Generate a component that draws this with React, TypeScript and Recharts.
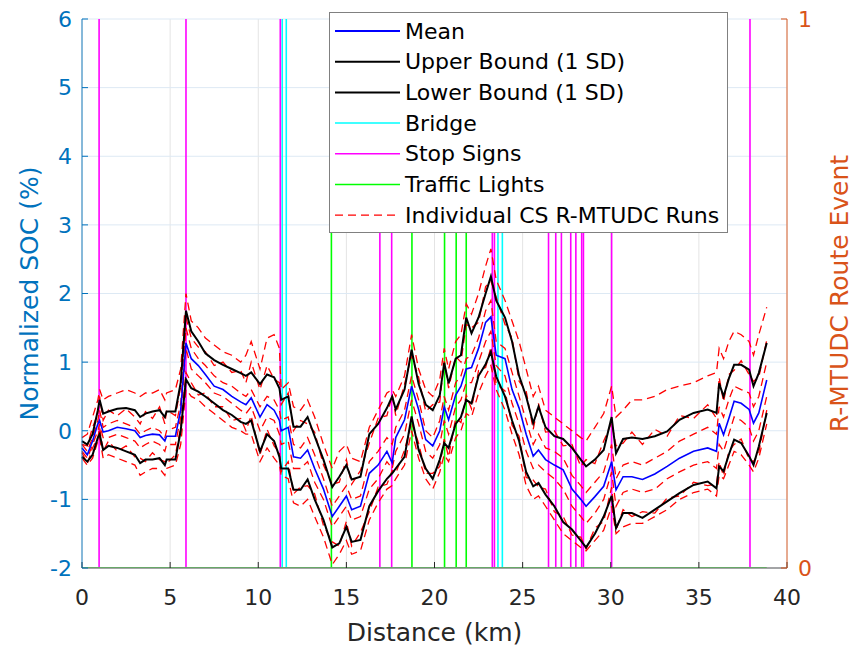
import React from 'react';
import {
  ComposedChart,
  Line,
  XAxis,
  YAxis,
  CartesianGrid,
  ReferenceLine,
  Legend,
  Label,
} from 'recharts';

// ---------------- DATA ----------------
const distanceKm = [
  0, 0.3, 0.6, 0.9, 1.0, 1.2, 1.5, 2.0, 2.5, 3.0,
  3.3, 3.6, 4.0, 4.4, 4.7, 4.8, 5.3, 5.6, 5.9, 6.2,
  6.6, 7.0, 7.5, 8.0, 8.5, 9.0, 9.3, 9.6, 10.1, 10.5,
  10.9, 11.2, 11.3, 11.7, 12.0, 12.4, 12.8, 13.2, 13.7, 14.2,
  14.6, 15.0, 15.3, 15.8, 16.3, 16.8, 17.3, 17.6, 17.8, 18.3,
  18.7, 19.1, 19.5, 19.9, 20.3, 20.55, 20.8, 21.2, 21.5, 21.8,
  22.1, 22.5, 22.9, 23.2, 23.5, 24.0, 24.4, 24.8, 25.2, 25.6,
  25.9, 26.3, 26.8, 27.3, 27.8, 28.3, 28.6, 29.1, 29.6, 30.05,
  30.3, 30.7, 31.2, 31.8, 32.5, 33.2, 33.9, 34.7, 35.5, 36.0,
  36.15, 36.4, 36.7, 37.0, 37.4, 37.85, 38.1, 38.4, 38.85,
];

const meanSOC = [
  -0.25, -0.35, -0.15, 0.1, 0.15, -0.02, 0.0, 0.05, 0.03, 0.0,
  -0.1, -0.07, -0.05, -0.06, -0.15, -0.08, -0.08, 0.3, 1.28, 1.05,
  0.95, 0.82, 0.65, 0.6, 0.5, 0.42, 0.38, 0.48, 0.2, 0.38,
  0.3, 0.15, 0.0, 0.05, -0.38, -0.4, -0.28, -0.55, -0.85, -1.25,
  -1.1, -0.95, -1.15, -1.1, -0.62, -0.5, -0.3, -0.47, -0.1, 0.16,
  0.65, 0.31, -0.13, -0.22, 0.0, 0.35, 0.16, 0.52, 0.65, 0.9,
  0.92, 1.2, 1.58, 1.66, 1.1, 1.05, 0.6, 0.33, -0.05, -0.37,
  -0.28, -0.42, -0.5, -0.57, -0.85, -1.0, -1.1, -0.96, -0.81, -0.45,
  -0.86, -0.67, -0.67, -0.71, -0.63, -0.52, -0.4, -0.3, -0.25, -0.3,
  0.11, -0.06, 0.18, 0.43, 0.4, 0.31, 0.11, 0.26, 0.74,
];

const upperSOC = [
  -0.15, -0.2, -0.05, 0.3, 0.45, 0.25, 0.28, 0.32, 0.33, 0.3,
  0.2, 0.25, 0.28, 0.3, 0.2, 0.28, 0.28, 0.7, 1.75, 1.45,
  1.3, 1.13, 1.03, 0.96, 0.9, 0.84, 0.8, 0.85, 0.68, 0.82,
  0.78, 0.62, 0.45, 0.5, 0.06, 0.06, 0.2, -0.08, -0.42, -0.82,
  -0.67, -0.5, -0.71, -0.67, -0.05, 0.1, 0.33, 0.5, 0.31, 0.6,
  1.18, 0.68, 0.38, 0.3, 0.52, 0.99, 0.69, 1.05, 1.1, 1.65,
  1.42, 1.65, 2.0, 2.25, 1.9, 1.65, 1.3, 0.8, 0.5, 0.11,
  0.35, 0.05, -0.08, -0.12, -0.25, -0.42, -0.52, -0.42, -0.28, 0.2,
  -0.33, -0.12, -0.1, -0.12, -0.08, -0.01, 0.16, 0.26, 0.31, 0.26,
  0.69, 0.5, 0.76, 0.96, 0.96, 0.89, 0.65, 0.84, 1.28,
];

const lowerSOC = [
  -0.38, -0.45, -0.35, -0.1, -0.05, -0.28, -0.22, -0.25, -0.3, -0.35,
  -0.47, -0.42, -0.42, -0.4, -0.5, -0.42, -0.42, 0.0, 0.75, 0.62,
  0.57, 0.5, 0.4, 0.3, 0.23, 0.13, 0.1, 0.15, -0.3, -0.05,
  -0.15, -0.38, -0.55, -0.55, -0.86, -0.86, -0.71, -1.0, -1.3, -1.7,
  -1.64, -1.4, -1.62, -1.59, -1.1, -0.88, -0.7, -0.62, -0.55, -0.38,
  0.21, -0.28, -0.55, -0.7, -0.42, -0.18, -0.25, 0.1, 0.2, 0.45,
  0.4, 0.8, 0.97, 1.15, 0.79, 0.5, 0.15, -0.15, -0.6, -0.81,
  -0.76, -0.93, -1.1, -1.33, -1.44, -1.6, -1.7, -1.5, -1.25, -0.95,
  -1.42, -1.2, -1.2, -1.27, -1.15, -1.03, -0.91, -0.79, -0.74, -0.84,
  -0.52, -0.59, -0.35, -0.13, -0.18, -0.37, -0.5, -0.23, 0.26,
];

const run1 = [
  -0.1, -0.05, 0.2, 0.45, 0.6, 0.45, 0.5, 0.55, 0.6, 0.55,
  0.5, 0.55, 0.55, 0.6, 0.45, 0.55, 0.6, 0.9, 2.0, 1.6,
  1.5, 1.35, 1.25, 1.15, 1.1, 1.0, 1.1, 1.3, 0.9, 1.35,
  1.4, 1.2, 0.6, 0.7, 0.35, 0.3, 0.45, 0.2, -0.2, -0.55,
  -0.3, -0.2, -0.4, -0.45, 0.05, 0.3, 0.55, 0.6, 0.5, 0.8,
  1.4, 0.9, 0.6, 0.5, 0.75, 1.2, 0.9, 1.3, 1.4, 1.85,
  1.7, 2.0, 2.4, 2.65, 2.2, 1.9, 1.6, 1.3, 0.9, 0.5,
  0.65, 0.3, 0.2, 0.1, 0.0, -0.1, -0.15, 0.05, 0.25, 0.65,
  0.2, 0.3, 0.45, 0.45, 0.5, 0.6, 0.65, 0.7, 0.8, 0.85,
  1.2, 1.05, 1.3, 1.45, 1.4, 1.3, 1.1, 1.4, 1.8,
];

const run2 = [
  -0.2, -0.22, 0.05, 0.25, 0.5, 0.15, 0.3, 0.22, 0.32, 0.2,
  0.1, 0.28, 0.18, 0.35, 0.1, 0.3, 0.22, 0.65, 1.65, 1.35,
  1.22, 1.15, 0.95, 1.0, 0.85, 0.88, 0.7, 1.0, 0.6, 0.95,
  0.75, 0.7, 0.38, 0.55, 0.0, 0.15, 0.1, -0.02, -0.5, -0.78,
  -0.75, -0.42, -0.78, -0.58, -0.18, 0.18, 0.22, 0.52, 0.22, 0.68,
  1.1, 0.78, 0.28, 0.38, 0.42, 1.02, 0.62, 1.08, 1.0, 1.55,
  1.5, 1.58, 2.1, 2.18, 1.95, 1.55, 1.35, 0.72, 0.58, 0.02,
  0.4, -0.02, 0.0, -0.22, -0.2, -0.52, -0.42, -0.48, -0.15, 0.12,
  -0.22, -0.18, -0.02, -0.2, 0.02, -0.08, 0.22, 0.18, 0.38, 0.18,
  0.78, 0.42, 0.82, 0.88, 1.02, 0.82, 0.72, 0.78, 1.32,
];

const run3 = [
  -0.2, -0.3, -0.1, 0.15, 0.3, 0.05, 0.1, 0.15, 0.1, 0.05,
  -0.05, 0.0, 0.05, 0.0, -0.1, 0.0, 0.05, 0.4, 1.5, 1.2,
  1.05, 0.95, 0.8, 0.7, 0.65, 0.55, 0.5, 0.6, 0.35, 0.5,
  0.45, 0.3, 0.15, 0.2, -0.2, -0.25, -0.1, -0.35, -0.7, -1.1,
  -0.95, -0.8, -1.0, -0.95, -0.45, -0.3, -0.1, -0.2, 0.05, 0.3,
  0.8, 0.45, 0.0, -0.1, 0.15, 0.5, 0.3, 0.7, 0.8, 1.05,
  1.1, 1.35, 1.75, 1.9, 1.3, 1.2, 0.85, 0.5, 0.15, -0.2,
  -0.05, -0.25, -0.3, -0.4, -0.65, -0.8, -0.9, -0.75, -0.6, -0.2,
  -0.7, -0.5, -0.45, -0.5, -0.4, -0.3, -0.15, -0.05, 0.05, -0.05,
  0.35, 0.2, 0.45, 0.65, 0.6, 0.55, 0.35, 0.5, 1.0,
];

const run4 = [
  -0.3, -0.4, -0.2, 0.0, 0.1, -0.1, -0.1, -0.05, -0.1, -0.15,
  -0.25, -0.2, -0.15, -0.2, -0.3, -0.2, -0.2, 0.2, 1.2, 0.9,
  0.8, 0.7, 0.55, 0.5, 0.4, 0.3, 0.25, 0.35, 0.0, 0.2,
  0.15, -0.05, -0.2, -0.15, -0.55, -0.55, -0.45, -0.75, -1.0, -1.4,
  -1.25, -1.1, -1.3, -1.25, -0.85, -0.7, -0.45, -0.55, -0.3, -0.05,
  0.45, 0.1, -0.3, -0.4, -0.2, 0.15, -0.05, 0.35, 0.45, 0.7,
  0.7, 1.0, 1.3, 1.45, 0.95, 0.8, 0.4, 0.1, -0.3, -0.55,
  -0.5, -0.6, -0.7, -0.85, -1.1, -1.25, -1.35, -1.2, -1.0, -0.6,
  -1.1, -0.9, -0.85, -0.9, -0.85, -0.7, -0.6, -0.5, -0.45, -0.55,
  -0.2, -0.3, -0.05, 0.2, 0.15, 0.05, -0.15, 0.0, 0.5,
];

const run5 = [
  -0.32, -0.48, -0.25, -0.1, 0.05, -0.3, -0.15, -0.3, -0.22, -0.38,
  -0.4, -0.45, -0.32, -0.42, -0.45, -0.48, -0.35, 0.05, 0.85, 0.7,
  0.52, 0.55, 0.35, 0.35, 0.15, 0.18, 0.0, 0.22, -0.35, 0.02,
  -0.22, -0.32, -0.6, -0.45, -0.92, -0.82, -0.8, -0.92, -1.38, -1.62,
  -1.68, -1.32, -1.68, -1.48, -1.18, -0.82, -0.78, -0.58, -0.62, -0.28,
  0.12, -0.18, -0.62, -0.62, -0.52, -0.12, -0.38, 0.18, 0.12, 0.52,
  0.32, 0.88, 0.92, 1.22, 0.68, 0.58, 0.08, -0.08, -0.68, -0.72,
  -0.82, -0.85, -1.18, -1.25, -1.52, -1.55, -1.72, -1.42, -1.32, -0.82,
  -1.45, -1.15, -1.25, -1.18, -1.2, -0.98, -0.95, -0.75, -0.8, -0.78,
  -0.45, -0.66, -0.3, -0.2, -0.12, -0.42, -0.45, -0.32, 0.3,
];

const run6 = [
  -0.4, -0.5, -0.4, -0.15, -0.1, -0.4, -0.35, -0.4, -0.45, -0.5,
  -0.65, -0.6, -0.55, -0.55, -0.65, -0.55, -0.5, -0.2, 0.6, 0.5,
  0.45, 0.35, 0.25, 0.15, 0.05, 0.0, -0.05, -0.05, -0.45, -0.25,
  -0.4, -0.5, -0.65, -0.7, -1.05, -1.1, -1.0, -1.25, -1.55, -1.95,
  -1.8, -1.6, -1.8, -1.75, -1.3, -1.05, -0.85, -0.8, -0.7, -0.5,
  0.0, -0.4, -0.7, -0.85, -0.6, -0.35, -0.45, -0.1, 0.0, 0.25,
  0.2, 0.55, 0.8, 0.95, 0.6, 0.3, -0.05, -0.35, -0.8, -1.0,
  -0.95, -1.1, -1.3, -1.5, -1.6, -1.7, -1.75, -1.6, -1.45, -1.1,
  -1.5, -1.4, -1.35, -1.35, -1.25, -1.15, -1.0, -0.9, -0.85, -0.95,
  -0.65, -0.7, -0.5, -0.3, -0.35, -0.5, -0.6, -0.4, 0.1,
];

// Route event series (right axis, 0 = no event, 1 = event)
const routeEventBase = 0;
const bridgeKm = [11.36, 11.59, 23.6, 23.85];
const stopSignKm = [
  0.97, 5.9, 11.25, 16.9, 17.57, 23.28, 23.4, 26.47, 26.88, 27.2,
  27.73, 28.02, 28.35, 28.45, 30.05, 37.9,
];
const trafficLightKm = [14.15, 18.72, 20.57, 21.23, 21.8];

const xTicks = [0, 5, 10, 15, 20, 25, 30, 35, 40];
const socTicks = [-2, -1, 0, 1, 2, 3, 4, 5, 6];
const eventTicks = [0, 1];

const runKeys = ['r1', 'r2', 'r3', 'r4', 'r5', 'r6'];
const runSeries = [run1, run2, run3, run4, run5, run6];

const legendItems = [
  { name: 'Mean', color: '#0000FF', width: 2, dash: '' },
  { name: 'Upper Bound (1 SD)', color: '#000000', width: 2, dash: '' },
  { name: 'Lower Bound (1 SD)', color: '#000000', width: 2, dash: '' },
  { name: 'Bridge', color: '#00FFFF', width: 1.5, dash: '' },
  { name: 'Stop Signs', color: '#FF00FF', width: 1.5, dash: '' },
  { name: 'Traffic Lights', color: '#00FF00', width: 1.5, dash: '' },
  { name: 'Individual CS R-MTUDC Runs', color: '#FF0000', width: 1.3, dash: '8 5' },
];

// Table built from arrays
const rows = distanceKm.map((d, i) => {
  const row: Record<string, number> = {
    d,
    mean: meanSOC[i],
    upper: upperSOC[i],
    lower: lowerSOC[i],
    event: routeEventBase,
  };
  runKeys.forEach((k, j) => {
    row[k] = runSeries[j][i];
  });
  return row;
});

// ---------------- STYLE ----------------
const FONT = '"DejaVu Sans", "Liberation Sans", Arial, sans-serif';
const LEFT_COLOR = '#0072BD';
const RIGHT_COLOR = '#D95319';
const AXIS_GREY = '#262626';

const LeftAxisLabel = (props: any) => {
  const vb = props.viewBox || {};
  const cx = vb.x + 29;
  const cy = vb.y + vb.height / 2;
  return (
    <text
      x={cx}
      y={cy}
      transform={`rotate(-90 ${cx} ${cy})`}
      textAnchor="middle"
      dominantBaseline="central"
      fill={LEFT_COLOR}
      fontSize={25}
      fontFamily={FONT}
    >
      Normalized SOC (%)
    </text>
  );
};

const RightAxisLabel = (props: any) => {
  const vb = props.viewBox || {};
  const cx = vb.x + 52;
  const cy = vb.y + vb.height / 2;
  return (
    <text
      x={cx}
      y={cy}
      transform={`rotate(-90 ${cx} ${cy})`}
      textAnchor="middle"
      dominantBaseline="central"
      fill={RIGHT_COLOR}
      fontSize={25}
      fontFamily={FONT}
    >
      R-MTUDC Route Event
    </text>
  );
};

const BottomAxisLabel = (props: any) => {
  const vb = props.viewBox || {};
  const cx = vb.x + vb.width / 2;
  const cy = vb.y + 64;
  return (
    <text
      x={cx}
      y={cy}
      textAnchor="middle"
      dominantBaseline="central"
      fill={AXIS_GREY}
      fontSize={25}
      fontFamily={FONT}
    >
      Distance (km)
    </text>
  );
};

const renderLegend = () => {
  const rowH = 30.7;
  return (
    <div
      style={{
        width: 399,
        height: 221,
        boxSizing: 'border-box',
        border: '1.5px solid #808080',
        background: '#ffffff',
      }}
    >
      <svg width={396} height={218} style={{ display: 'block' }}>
        {legendItems.map((it, i) => {
          const y = 18 + i * rowH;
          return (
            <g key={it.name}>
              <line
                x1={5}
                x2={70}
                y1={y}
                y2={y}
                stroke={it.color}
                strokeWidth={it.width}
                strokeDasharray={it.dash || undefined}
              />
              <text
                x={75}
                y={y}
                dominantBaseline="central"
                fontSize={22}
                fontFamily={FONT}
                fill="#000000"
              >
                {it.name}
              </text>
            </g>
          );
        })}
      </svg>
    </div>
  );
};

export default function App() {
  return (
    <div style={{ position: 'absolute', left: 0, top: 0, background: '#fff' }}>
      <ComposedChart
        width={855}
        height={653}
        data={rows}
        margin={{ top: 19, right: 0, bottom: 0, left: 0 }}
      >
        <CartesianGrid horizontal={false} stroke="#e4e4e4" strokeWidth={1} />
        <CartesianGrid vertical={false} stroke="#dde9f4" strokeWidth={1} />

        <XAxis
          dataKey="d"
          type="number"
          domain={[0, 40]}
          ticks={xTicks}
          interval={0}
          height={85}
          tickSize={-6}
          tickMargin={27}
          axisLine={{ stroke: '#8a8a8a', strokeWidth: 1.5 }}
          tickLine={{ stroke: AXIS_GREY }}
          tick={{ fill: AXIS_GREY, fontSize: 22, fontFamily: FONT }}
        >
          <Label content={BottomAxisLabel} />
        </XAxis>
        <XAxis
          xAxisId="top"
          orientation="top"
          dataKey="d"
          type="number"
          domain={[0, 40]}
          ticks={xTicks}
          interval={0}
          height={0}
          tickSize={-6}
          tick={false}
          axisLine={{ stroke: '#8a8a8a', strokeWidth: 1.5 }}
          tickLine={{ stroke: AXIS_GREY }}
        />
        <YAxis
          type="number"
          domain={[-2, 6]}
          ticks={socTicks}
          interval={0}
          width={82}
          tickSize={-6}
          tickMargin={16}
          axisLine={{ stroke: LEFT_COLOR, strokeWidth: 1.5, strokeOpacity: 0.6 }}
          tickLine={{ stroke: LEFT_COLOR }}
          tick={{ fill: LEFT_COLOR, fontSize: 22, fontFamily: FONT }}
        >
          <Label content={LeftAxisLabel} />
        </YAxis>
        <YAxis
          yAxisId="right"
          orientation="right"
          type="number"
          domain={[0, 1]}
          allowDataOverflow
          ticks={eventTicks}
          interval={0}
          width={68}
          tickSize={-6}
          tickMargin={17}
          axisLine={{ stroke: RIGHT_COLOR, strokeWidth: 1.5, strokeOpacity: 0.6 }}
          tickLine={{ stroke: RIGHT_COLOR }}
          tick={{ fill: RIGHT_COLOR, fontSize: 22, fontFamily: FONT }}
        >
          <Label content={RightAxisLabel} />
        </YAxis>

        {bridgeKm.map((x) => (
          <ReferenceLine key={'b' + x} x={x} stroke="#00FFFF" strokeWidth={1.6} />
        ))}
        {stopSignKm.map((x) => (
          <ReferenceLine key={'s' + x} x={x} stroke="#FF00FF" strokeWidth={1.6} />
        ))}
        {trafficLightKm.map((x) => (
          <ReferenceLine key={'t' + x} x={x} stroke="#00FF00" strokeWidth={1.6} />
        ))}
        <Line
          yAxisId="right"
          dataKey="event"
          stroke="#00FF00"
          strokeWidth={2}
          dot={false}
          activeDot={false}
          isAnimationActive={false}
          legendType="none"
        />

        {runKeys.map((k) => (
          <Line
            key={k}
            dataKey={k}
            stroke="#FF0000"
            strokeWidth={1.3}
            strokeDasharray="8 5"
            dot={false}
            activeDot={false}
            isAnimationActive={false}
            legendType="none"
          />
        ))}
        <Line
          dataKey="upper"
          stroke="#000000"
          strokeWidth={2}
          dot={false}
          activeDot={false}
          isAnimationActive={false}
        />
        <Line
          dataKey="lower"
          stroke="#000000"
          strokeWidth={2}
          dot={false}
          activeDot={false}
          isAnimationActive={false}
        />
        <Line
          dataKey="mean"
          stroke="#0000FF"
          strokeWidth={1.6}
          dot={false}
          activeDot={false}
          isAnimationActive={false}
        />

        <Legend
          layout="vertical"
          align="center"
          verticalAlign="middle"
          wrapperStyle={{ top: 12, left: 329, width: 399, height: 221 }}
          content={renderLegend}
        />
      </ComposedChart>
    </div>
  );
}
